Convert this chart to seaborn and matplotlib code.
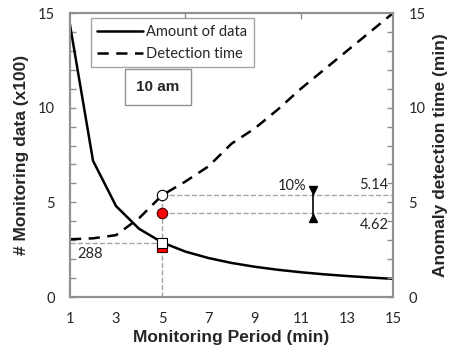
import matplotlib
matplotlib.use("Agg")
import matplotlib.pyplot as plt
import seaborn as sns
import pandas as pd
from matplotlib.lines import Line2D

# monitoring period (min)
period = [1, 2, 3, 4, 5, 6, 7, 8, 9, 10, 11, 12, 13, 14, 15]
# amount of monitoring data (x100)
amount = [14.4, 7.2, 4.8, 3.6, 2.88, 2.4, 2.06, 1.8, 1.6, 1.44, 1.31, 1.2, 1.11, 1.03, 0.96]
# anomaly detection time (min)
detect = [3.05, 3.1, 3.27, 4.17, 5.38, 6.1, 6.9, 8.1, 8.9, 9.9, 11.0, 12.0, 13.0, 14.0, 15.0]

sel_x = 5
sel_amount = 2.88
detect_hi = 5.4
detect_lo = 4.45
label_hi = "5.14"
label_lo = "4.62"
label_amount = "288"
label_gain = "10%"

df = pd.DataFrame({"period": period, "amount": amount, "detect": detect})

sns.set_theme(style="white")
plt.rcParams["font.family"] = ["Lato", "DejaVu Sans"]

fig = plt.figure(figsize=(4.54, 3.47), dpi=100)
ax = fig.add_axes([0.154, 0.144, 0.712, 0.8185])

grey = "#909090"
guide = "#a6a6a6"
tcol = "#262626"

sns.lineplot(data=df, x="period", y="amount", ax=ax, color="black", lw=1.8, zorder=3)
sns.lineplot(data=df, x="period", y="detect", ax=ax, color="black", lw=1.8,
             zorder=3).lines[-1].set_dashes([4.5, 3])

# guide lines
ax.plot([1, sel_x], [sel_amount, sel_amount], ls="--", color=guide, lw=1, zorder=2)
ax.plot([sel_x, sel_x], [0, detect_hi], ls="--", color=guide, lw=1, zorder=2)
ax.plot([sel_x, 15], [detect_hi, detect_hi], ls="--", color=guide, lw=1, zorder=2)
ax.plot([sel_x, 15], [detect_lo, detect_lo], ls="--", color=guide, lw=1, zorder=2)

# markers
ax.plot([sel_x], [sel_amount - 0.25], marker="s", ms=7.5, mfc="red", mec="#400000", mew=0.8, zorder=4)
ax.plot([sel_x], [sel_amount], marker="s", ms=7.5, mfc="white", mec="black", mew=0.8, zorder=5)
ax.plot([sel_x], [detect_hi], marker="o", ms=7.5, mfc="white", mec="black", mew=0.8, zorder=5)
ax.plot([sel_x], [detect_lo], marker="o", ms=7.5, mfc="red", mec="#400000", mew=0.8, zorder=5)

# 10% gap indicator
gx = 11.53
ax.plot([gx, gx], [5.65, 4.17], color="black", lw=1.2, zorder=5)
ax.plot([gx], [5.65], marker="v", ms=6, color="black", zorder=5)
ax.plot([gx], [4.17], marker="^", ms=6, color="black", zorder=5)

tfont = dict(fontsize=10.5, color=tcol)
ax.text(1.3, 2.25, label_amount, ha="left", va="center", **tfont)
ax.text(11.25, 5.85, label_gain, ha="right", va="center", **tfont)
ax.text(14.8, 5.9, label_hi, ha="right", va="center", **tfont)
ax.text(14.8, 3.8, label_lo, ha="right", va="center", **tfont)

ax.text(4.81, 11.09, "10 am", ha="center", va="center", fontsize=11, fontweight="bold",
        family="Liberation Sans",
        bbox=dict(boxstyle="square,pad=0.72", fc="white", ec=grey, lw=1))

handles = [Line2D([], [], color="black", lw=1.8),
           Line2D([], [], color="black", lw=1.8, dashes=[4.5, 3])]
leg = ax.legend(handles, ["Amount of data", "Detection time"], loc="upper left",
                bbox_to_anchor=(0.065, 0.982), fontsize=10.5, handlelength=3.1,
                frameon=True, fancybox=False, borderpad=0.45, labelspacing=0.55,
                handletextpad=0.25, borderaxespad=0)
leg.get_frame().set_edgecolor(grey)
leg.get_frame().set_linewidth(1)

ax.set_xlim(1, 15)
ax.set_ylim(0, 15)
ax.set_xticks(period[::2])
ax.set_yticks([0, 5, 10, 15])
ax.set_yticks(range(0, 16), minor=True)

ax.set_xlabel("Monitoring Period (min)", fontsize=12.5, fontweight="bold",
              family="Liberation Sans", labelpad=3)
ax.set_ylabel("# Monitoring data (x100)", fontsize=12.5, fontweight="bold",
              family="Liberation Sans", labelpad=6)

ax2 = ax.twinx()
ax2.set_ylim(0, 15)
ax2.set_yticks([0, 5, 10, 15])
ax2.set_yticks(range(0, 16), minor=True)
ax2.set_ylabel("Anomaly detection time (min)", fontsize=12.5, fontweight="bold",
               family="Liberation Sans", labelpad=5)

top = ax.secondary_xaxis("top")
top.set_xticks([6, 11])
top.set_xticklabels([])
top.tick_params(direction="in", length=4, color=grey, width=1)
top.spines["top"].set_visible(False)

for a in (ax, ax2):
    for s in a.spines.values():
        s.set_color(grey)
        s.set_linewidth(1.5)
    a.tick_params(which="both", direction="in", color=grey, width=1, labelsize=10.5,
                  labelcolor=tcol, pad=11)
    a.tick_params(which="major", length=4)
    a.tick_params(which="minor", length=4)
ax.tick_params(axis="x", pad=11)

fig.savefig("out.png", dpi=100)
